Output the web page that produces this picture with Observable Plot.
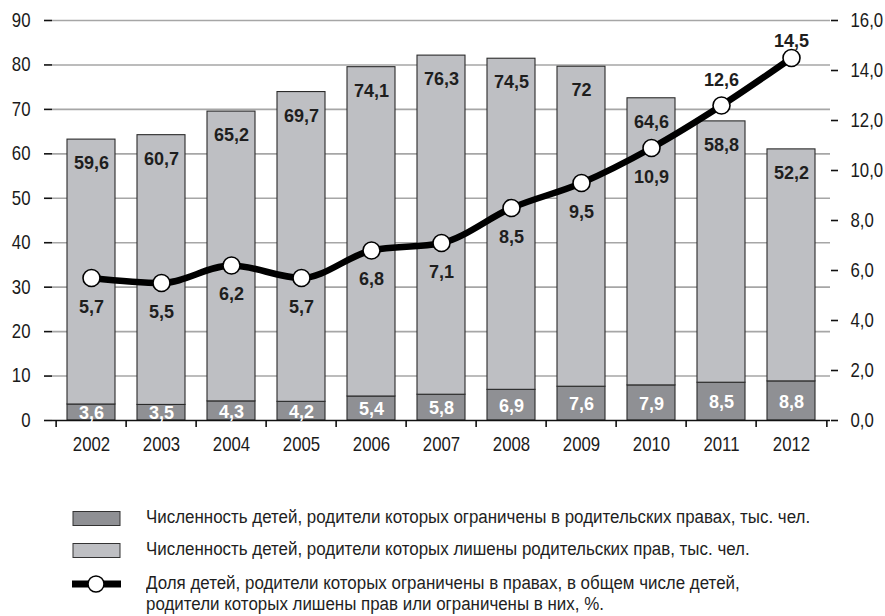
<!DOCTYPE html>
<html>
<head>
<meta charset="utf-8">
<script src="https://cdn.jsdelivr.net/npm/d3@7"></script>
<script src="https://cdn.jsdelivr.net/npm/@observablehq/plot@0.6"></script>
<style>
  body { margin: 0; background: #fff; }
  #wrap { position: relative; width: 885px; height: 616px; background: #fff; font-family: "Liberation Sans", Arial, sans-serif; }
  #chart { position: absolute; left: 0; top: 0; }
  .leg { position: absolute; left: 0; font-size: 18px; color: #1e1e1e; line-height: 21px; }
  .leg .txt { position: absolute; left: 146px; white-space: nowrap; transform: scaleX(0.94); transform-origin: 0 50%; }
  .leg svg { position: absolute; left: 72px; }
</style>
</head>
<body>
<div id="wrap">
  <div id="chart"></div>
</div>
<script>
const years = ["2002","2003","2004","2005","2006","2007","2008","2009","2010","2011","2012"];
const restricted = [3.6, 3.5, 4.3, 4.2, 5.4, 5.8, 6.9, 7.6, 7.9, 8.5, 8.8];
const deprived = [59.6, 60.7, 65.2, 69.7, 74.1, 76.3, 74.5, 72, 64.6, 58.8, 52.2];
const share = [5.7, 5.5, 6.2, 5.7, 6.8, 7.1, 8.5, 9.5, 10.9, 12.6, 14.5];
const leftTicks = [0, 10, 20, 30, 40, 50, 60, 70, 80, 90];
const rightTicks = [0, 2, 4, 6, 8, 10, 12, 14, 16];
const legendLabels = [
  "Численность детей, родители которых ограничены в родительских правах, тыс. чел.",
  "Численность детей, родители которых лишены родительских прав, тыс. чел.",
  "Доля детей, родители которых ограничены в правах, в общем числе детей,",
  "родители которых лишены прав или ограничены в них, %."
];

const LEFT_MAX = 90, RIGHT_MAX = 16;
const toLeft = v => v * LEFT_MAX / RIGHT_MAX;
const comma = v => String(v).replace(".", ",");
const comma1 = v => v.toFixed(1).replace(".", ",");

const data = years.map((y, i) => ({
  year: y,
  restricted: restricted[i],
  deprived: deprived[i],
  total: restricted[i] + deprived[i],
  share: share[i],
  shareL: toLeft(share[i])
}));
const stacked = [];
data.forEach(d => {
  stacked.push({year: d.year, kind: "r", y1: 0, y2: d.restricted});
  stacked.push({year: d.year, kind: "d", y1: d.restricted, y2: d.total});
});

const W = 885, H = 462, mL = 52, mR = 55, mT = 20, mB = 42;
const step = (W - mL - mR) / years.length;
const darkFill = "#8f9094", lightFill = "#bebfc3";
const sansFont = "'Liberation Sans', Arial, sans-serif";

const below = data.slice(0, 9);
const above1 = data.slice(9, 10);
const above2 = data.slice(10);

const lbl = {fontFamily: sansFont, fontWeight: "bold", fontSize: 18, fill: "#1e1e1e"};

const chart = Plot.plot({
  width: W, height: H,
  marginLeft: mL, marginRight: mR, marginTop: mT, marginBottom: mB,
  style: {fontFamily: sansFont, fontSize: "20px", color: "#1a1a1a", background: "#fff"},
  x: {type: "band", domain: years, paddingInner: 0.32, paddingOuter: 0.16, label: null},
  y: {domain: [0, LEFT_MAX], label: null},
  marks: [
    Plot.gridY(leftTicks.filter(t => t > 0), {stroke: "#a6a6a6", strokeOpacity: 1, strokeWidth: 1.6}),
    Plot.rectY(stacked, {x: "year", y1: "y1", y2: "y2", fill: d => d.kind === "r" ? darkFill : lightFill, stroke: "#2b2b2b", strokeWidth: 1.1}),
    Plot.ruleY([0], {stroke: "#111", strokeWidth: 1.6}),
    Plot.axisY({anchor: "left", ticks: leftTicks, tickSize: 8, tickPadding: 14, line: true, stroke: "#111", strokeWidth: 1.6, label: null, fontSize: 20}),
    Plot.axisY({anchor: "right", ticks: rightTicks.map(toLeft), tickFormat: v => comma1(v * RIGHT_MAX / LEFT_MAX), tickSize: 7, tickPadding: 13, line: true, stroke: "#111", strokeWidth: 1.6, label: null, fontSize: 20}),
    Plot.axisX({ticks: years, tickSize: 7, dx: -step / 2, tickFormat: () => "", stroke: "#111", strokeWidth: 1.6, label: null}),
    Plot.axisX({ticks: years.slice(-1), tickSize: 7, dx: step / 2, tickFormat: () => "", stroke: "#111", strokeWidth: 1.6, label: null}),
    Plot.axisX({ticks: years, tickSize: 0, tickPadding: 16, label: null, fontSize: 20}),
    Plot.text(data, {x: "year", y: "total", text: d => comma(d.deprived), dy: 24, ...lbl}),
    Plot.text(data, {x: "year", y: d => d.restricted / 2, text: d => comma(d.restricted), dy: 1, ...lbl, fill: "#fff"}),
    Plot.line(data, {x: "year", y: "shareL", curve: "monotone-x", stroke: "#000", strokeWidth: 6.5}),
    Plot.dot(data, {x: "year", y: "shareL", r: 8.5, fill: "#fff", stroke: "#000", strokeWidth: 1.6}),
    Plot.text(below, {x: "year", y: "shareL", text: d => comma(d.share), dy: 29, ...lbl}),
    Plot.text(above1, {x: "year", y: "shareL", text: d => comma(d.share), dy: -25, ...lbl}),
    Plot.text(above2, {x: "year", y: "shareL", text: d => comma(d.share), dy: -17, ...lbl})
  ]
});

// condense the axis tick labels (narrow typeface look)
chart.querySelectorAll('g[aria-label$="tick label"] text').forEach(t => {
  const tr = t.getAttribute("transform");
  if (tr && tr.includes("translate")) {
    t.setAttribute("transform", tr + " scale(0.84,1)");
  } else {
    const x = +(t.getAttribute("x") || 0), y = +(t.getAttribute("y") || 0);
    t.removeAttribute("x"); t.removeAttribute("y");
    t.setAttribute("transform", `translate(${x},${y}) scale(0.84,1)`);
  }
});
document.getElementById("chart").appendChild(chart);

// Legend
const wrap = document.getElementById("wrap");
const rows = [
  {top: 507, type: "rect", fill: darkFill, lines: [legendLabels[0]]},
  {top: 539, type: "rect", fill: lightFill, lines: [legendLabels[1]]},
  {top: 573, type: "line", lines: [legendLabels[2], legendLabels[3]]}
];
rows.forEach(r => {
  const div = document.createElement("div");
  div.className = "leg";
  div.style.top = r.top + "px";
  let sw;
  if (r.type === "rect") {
    sw = `<svg width="50" height="20" style="top:2px"><rect x="1" y="2.5" width="47" height="14" fill="${r.fill}" stroke="#333" stroke-width="1"/></svg>`;
  } else {
    sw = `<svg width="50" height="20" style="top:1px"><line x1="0" x2="49" y1="10" y2="10" stroke="#000" stroke-width="7"/><circle cx="24" cy="10" r="8" fill="#fff" stroke="#000" stroke-width="1.5"/></svg>`;
  }
  const txt = r.lines.map((l, i) => `<div class="txt" style="top:${i * 21}px">${l}</div>`).join("");
  div.innerHTML = sw + txt;
  wrap.appendChild(div);
});
</script>
</body>
</html>
